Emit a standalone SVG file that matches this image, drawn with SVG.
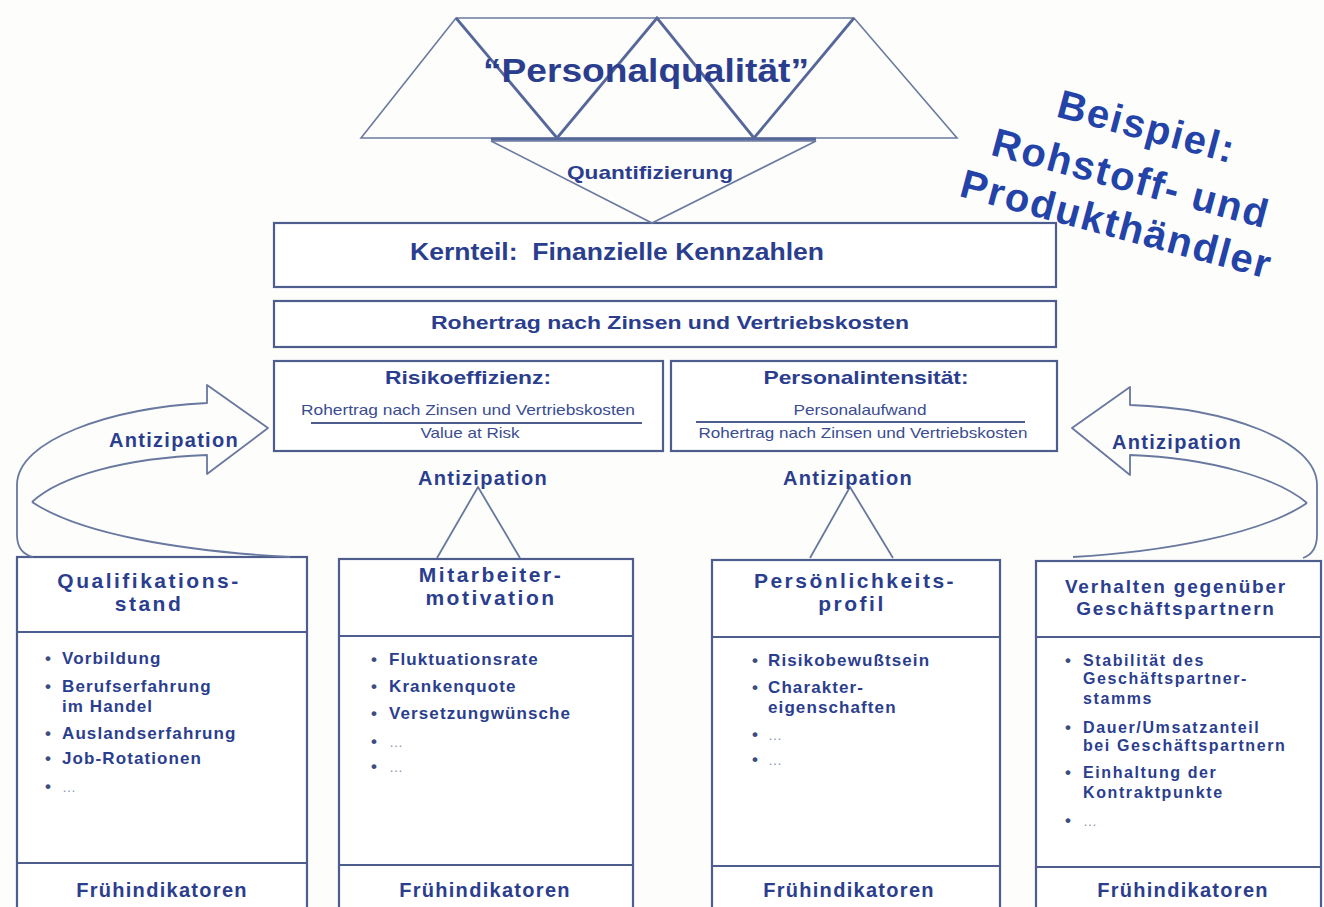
<svg xmlns="http://www.w3.org/2000/svg" width="1324" height="907" viewBox="0 0 1324 907">
<style>
  .box{fill:#ffffff;stroke:#4d5e8e;stroke-width:2.2}
  .div{fill:none;stroke:#4d5e8e;stroke-width:2.2}
  .ln{fill:none;stroke:#6b7a9e;stroke-width:1.6}
  .lnb{fill:none;stroke:#56679a;stroke-width:2.8}
  .arr{fill:none;stroke:#68789e;stroke-width:1.8;stroke-linejoin:round}
  text{font-family:"Liberation Sans",Arial,sans-serif;fill:#2b3e8e}
  .b{font-weight:bold}
  .c{text-anchor:middle}
  .ttl{font-size:21px;font-weight:bold;letter-spacing:2.5px;text-anchor:middle}
  .ttl4{font-size:19px;font-weight:bold;letter-spacing:1.8px;text-anchor:middle}
  .bul{font-size:17px;font-weight:bold;letter-spacing:1.1px}
  .bul4{font-size:16px;font-weight:bold;letter-spacing:1.6px}
  .dot{font-size:17px;font-weight:bold;text-anchor:middle;fill:#3d4d80}
  .ell{font-size:14px;fill:#8a96b8}
  .fi{font-size:20px;font-weight:bold;letter-spacing:1.3px;text-anchor:middle}
  .ant{font-size:20px;font-weight:bold;letter-spacing:1.3px;text-anchor:middle}
  .frm{font-size:15px;text-anchor:middle;fill:#3a4c92}
  .big{font-size:40px;font-weight:bold;letter-spacing:1.8px;text-anchor:middle;fill:#2343a8}
</style>
<rect width="1324" height="907" fill="#fdfdfc"/>

<!-- roof of triangles -->
<g id="personalqualitaet">
  <polygon class="ln" points="361,138 456,18 854,18 957,138"/>
  <polyline class="lnb" points="456,18 557,138 657,18 754,138 854,18"/>
  <text class="b c" x="646" y="82" font-size="33" textLength="326" lengthAdjust="spacingAndGlyphs">“Personalqualität”</text>
</g>

<!-- financial core -->
<g id="kernteil">
  <rect class="box" x="274" y="223" width="782" height="64"/>
  <text class="b c" x="617" y="260" font-size="23" textLength="414" lengthAdjust="spacingAndGlyphs">Kernteil:&#160; Finanzielle Kennzahlen</text>
</g>
<g id="rohertrag">
  <rect class="box" x="274" y="301" width="782" height="46"/>
  <text class="b c" x="670" y="329" font-size="19" textLength="478" lengthAdjust="spacingAndGlyphs">Rohertrag nach Zinsen und Vertriebskosten</text>
</g>
<g id="risikoeffizienz">
  <rect class="box" x="274" y="361" width="389" height="90"/>
  <text class="b c" x="468" y="384" font-size="19" textLength="166" lengthAdjust="spacingAndGlyphs">Risikoeffizienz:</text>
  <text class="frm" x="468" y="415" textLength="334" lengthAdjust="spacingAndGlyphs">Rohertrag nach Zinsen und Vertriebskosten</text>
  <line class="div" x1="311" y1="423" x2="642" y2="423" stroke-width="1.8"/>
  <text class="frm" x="470" y="438" textLength="99" lengthAdjust="spacingAndGlyphs">Value at Risk</text>
</g>
<g id="personalintensitaet">
  <rect class="box" x="671" y="361" width="386" height="90"/>
  <text class="b c" x="866" y="384" font-size="19" textLength="205" lengthAdjust="spacingAndGlyphs">Personalintensität:</text>
  <text class="frm" x="860" y="415" textLength="133" lengthAdjust="spacingAndGlyphs">Personalaufwand</text>
  <line class="div" x1="696" y1="422" x2="1025" y2="422" stroke-width="1.8"/>
  <text class="frm" x="863" y="438" textLength="329" lengthAdjust="spacingAndGlyphs">Rohertrag nach Zinsen und Vertriebskosten</text>
</g>

<!-- example label -->
<g id="beispiel" transform="translate(1131,178) rotate(15)">
  <text class="big" x="2" y="-40">Beispiel:</text>
  <text class="big" x="0" y="14">Rohstoff- und</text>
  <text class="big" x="-2" y="62">Produkthändler</text>
</g>

<!-- column 1 -->
<g id="qualifikationsstand">
  <rect class="box" x="17" y="557" width="290" height="370"/>
  <line class="div" x1="17" y1="632" x2="307" y2="632"/>
  <line class="div" x1="17" y1="863" x2="307" y2="863"/>
  <text class="ttl" x="149" y="588">Qualifikations-</text>
  <text class="ttl" x="149" y="611">stand</text>
  <text class="dot" x="48" y="664">•</text><text class="bul" x="62" y="664">Vorbildung</text>
  <text class="dot" x="48" y="692">•</text><text class="bul" x="62" y="692">Berufserfahrung</text>
  <text class="bul" x="62" y="712">im Handel</text>
  <text class="dot" x="48" y="739">•</text><text class="bul" x="62" y="739">Auslandserfahrung</text>
  <text class="dot" x="48" y="764">•</text><text class="bul" x="62" y="764">Job-Rotationen</text>
  <text class="dot" x="48" y="792">•</text><text class="ell" x="62" y="792">…</text>
  <text class="fi" x="162" y="897">Frühindikatoren</text>
</g>

<!-- column 2 -->
<g id="mitarbeitermotivation">
  <rect class="box" x="339" y="559" width="294" height="370"/>
  <line class="div" x1="339" y1="636" x2="633" y2="636"/>
  <line class="div" x1="339" y1="865" x2="633" y2="865"/>
  <text class="ttl" x="491" y="582">Mitarbeiter-</text>
  <text class="ttl" x="491" y="605">motivation</text>
  <text class="dot" x="374" y="665">•</text><text class="bul" x="389" y="665">Fluktuationsrate</text>
  <text class="dot" x="374" y="692">•</text><text class="bul" x="389" y="692">Krankenquote</text>
  <text class="dot" x="374" y="719">•</text><text class="bul" x="389" y="719">Versetzungwünsche</text>
  <text class="dot" x="374" y="747">•</text><text class="ell" x="389" y="747">…</text>
  <text class="dot" x="374" y="772">•</text><text class="ell" x="389" y="772">…</text>
  <text class="fi" x="485" y="897">Frühindikatoren</text>
</g>

<!-- column 3 -->
<g id="persoenlichkeitsprofil">
  <rect class="box" x="712" y="560" width="288" height="370"/>
  <line class="div" x1="712" y1="637" x2="1000" y2="637"/>
  <line class="div" x1="712" y1="866" x2="1000" y2="866"/>
  <text class="ttl" x="855" y="588">Persönlichkeits-</text>
  <text class="ttl" x="852" y="611">profil</text>
  <text class="dot" x="755" y="666">•</text><text class="bul" x="768" y="666">Risikobewußtsein</text>
  <text class="dot" x="755" y="693">•</text><text class="bul" x="768" y="693">Charakter-</text>
  <text class="bul" x="768" y="713">eigenschaften</text>
  <text class="dot" x="755" y="740">•</text><text class="ell" x="768" y="740">…</text>
  <text class="dot" x="755" y="765">•</text><text class="ell" x="768" y="765">…</text>
  <text class="fi" x="849" y="897">Frühindikatoren</text>
</g>

<!-- column 4 -->
<g id="geschaeftspartner">
  <rect class="box" x="1036" y="561" width="285" height="370"/>
  <line class="div" x1="1036" y1="637" x2="1321" y2="637"/>
  <line class="div" x1="1036" y1="867" x2="1321" y2="867"/>
  <text class="ttl4" x="1176" y="593">Verhalten gegenüber</text>
  <text class="ttl4" x="1176" y="615">Geschäftspartnern</text>
  <text class="dot" x="1068" y="666">•</text><text class="bul4" x="1083" y="666">Stabilität des</text>
  <text class="bul4" x="1083" y="684">Geschäftspartner-</text>
  <text class="bul4" x="1083" y="704">stamms</text>
  <text class="dot" x="1068" y="733">•</text><text class="bul4" x="1083" y="733">Dauer/Umsatzanteil</text>
  <text class="bul4" x="1083" y="751">bei Geschäftspartnern</text>
  <text class="dot" x="1068" y="778">•</text><text class="bul4" x="1083" y="778">Einhaltung der</text>
  <text class="bul4" x="1083" y="798">Kontraktpunkte</text>
  <text class="dot" x="1068" y="826">•</text><text class="ell" x="1083" y="826">…</text>
  <text class="fi" x="1183" y="897">Frühindikatoren</text>
</g>

<!-- connectors -->
<g id="connectors">
  <!-- quantification funnel -->
  <polygon class="ln" points="491,141 816,141 652,223"/>
  <line class="lnb" x1="491" y1="139" x2="816" y2="139"/>
  <text class="b c" x="650" y="179" font-size="19" textLength="166" lengthAdjust="spacingAndGlyphs">Quantifizierung</text>

  <!-- left curved arrow -->
  <path class="arr" d="M33,557 Q17,553 17,535 L17,485 C17,440 110,408 207,403 L207,385 L268,428 L207,474 L207,455 C125,458 60,476 32,502"/>
  <path class="arr" d="M32,502 C80,534 180,551 290,557"/>
  <text class="ant" x="174" y="447">Antizipation</text>

  <!-- right curved arrow -->
  <path class="arr" d="M1303,558 Q1317,553 1317,535 L1317,485 C1317,440 1225,408 1130,405 L1130,387 L1072,428 L1130,475 L1130,455 C1210,458 1278,478 1307,503"/>
  <path class="arr" d="M1307,503 C1260,535 1160,552 1073,557"/>
  <text class="ant" x="1177" y="449">Antizipation</text>

  <!-- anticipation wedges -->
  <polyline class="arr" points="437,558 478,487 520,558"/>
  <text class="ant" x="483" y="485">Antizipation</text>
  <polyline class="arr" points="810,558 850,487 893,558"/>
  <text class="ant" x="848" y="485">Antizipation</text>
</g>
</svg>
